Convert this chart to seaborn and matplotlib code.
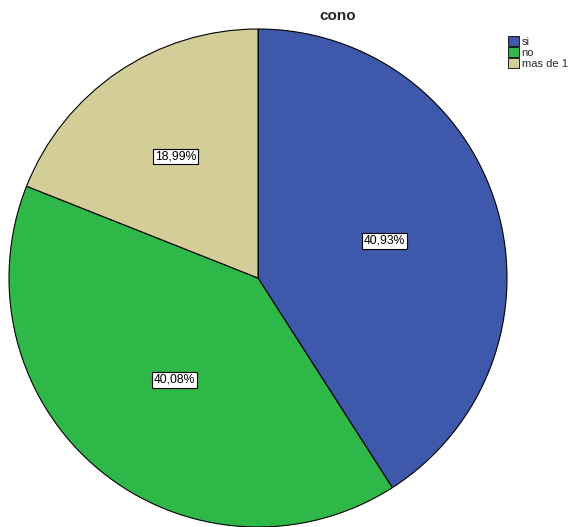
import matplotlib
matplotlib.use("Agg")
import numpy as np
import matplotlib.pyplot as plt
from matplotlib.patches import Patch
import seaborn as sns

categories = ["si", "no", "mas de 1"]
percentages = [40.93, 40.08, 18.99]
colors = ["#3E58AC", "#2EB848", "#D3CE97"]
label_distance = [0.53, 0.53, 0.59]
title = "cono"

sns.set_theme(style="white")
plt.rcParams["font.family"] = ["Liberation Sans", "DejaVu Sans"]

fig = plt.figure(figsize=(5.73, 5.27), dpi=100)
ax = fig.add_axes([9 / 573, 0 / 527, 498 / 573, 498 / 527])

wedges, texts, autotexts = ax.pie(
    percentages,
    colors=colors,
    startangle=90,
    counterclock=False,
    autopct=lambda p: f"{p:.2f}%".replace(".", ","),
    pctdistance=0.53,
    wedgeprops=dict(edgecolor="black", linewidth=0.8),
    textprops=dict(fontsize=8.7, color="black"),
)
for w, t, d in zip(wedges, autotexts, label_distance):
    mid = np.deg2rad((w.theta1 + w.theta2) / 2)
    t.set_position((d * np.cos(mid), d * np.sin(mid)))
    t.set_bbox(dict(boxstyle="square,pad=0.15", facecolor="white",
                    edgecolor="black", linewidth=0.8))
ax.set_xlim(-1, 1)
ax.set_ylim(-1, 1)
ax.set_aspect("equal")
ax.axis("off")

fig.text(338 / 573, 1 - 16 / 527, title, ha="center", va="center",
         fontsize=11, fontweight="bold")

handles = [Patch(facecolor=c, edgecolor="black", linewidth=0.6) for c in colors]
fig.legend(handles, categories, loc="upper left",
           bbox_to_anchor=(500 / 573, 1 - 28 / 527), frameon=False,
           fontsize=8, handlelength=1.0, handleheight=1.0,
           handletextpad=0.25, labelspacing=0.05, borderpad=0.2)

fig.savefig("out.png", dpi=100)
